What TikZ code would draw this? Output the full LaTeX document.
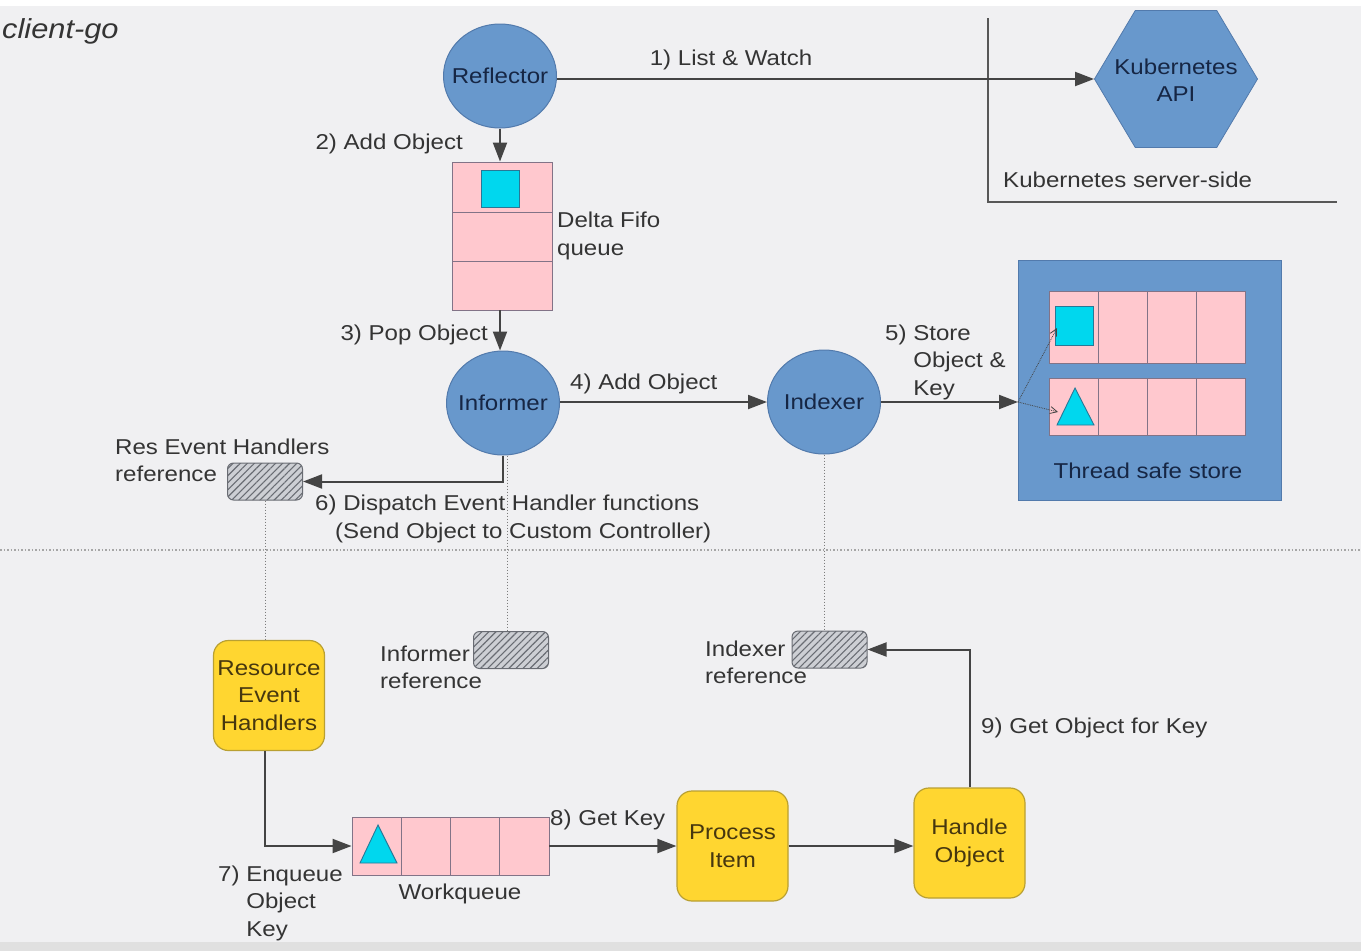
\documentclass[tikz,border=0pt]{standalone}
\usepackage{fontspec}
\setmainfont{Liberation Sans}[FakeStretch=1.12]
\usetikzlibrary{arrows.meta,patterns.meta,shapes.geometric}
\definecolor{bg}{RGB}{240,240,242}
\definecolor{blu}{RGB}{104,152,204}
\definecolor{bluedge}{RGB}{82,122,172}
\definecolor{pnk}{RGB}{255,200,206}
\definecolor{pnkedge}{RGB}{130,115,135}
\definecolor{cyn}{RGB}{0,215,238}
\definecolor{cynedge}{RGB}{40,120,150}
\definecolor{ylw}{RGB}{255,214,48}
\definecolor{ylwedge}{RGB}{185,160,50}
\definecolor{txt}{RGB}{52,52,52}
\definecolor{navy}{RGB}{22,38,68}
\definecolor{ylwtxt}{RGB}{70,55,15}
\definecolor{lin}{RGB}{68,68,68}
\definecolor{hatchbg}{RGB}{205,207,212}
\definecolor{hatchln}{RGB}{105,108,115}
\begin{document}
\begin{tikzpicture}[x=1pt,y=-1pt,
  font=\fontsize{21.5}{27.5}\selectfont, text=txt,
  proc/.style={ellipse, draw=bluedge, line width=1pt, fill=blu, minimum width=113pt, minimum height=104pt, inner sep=0pt, text=navy},
  ybox/.style={rectangle, rounded corners=15pt, draw=ylwedge, line width=1.2pt, fill=ylw, minimum width=111pt, minimum height=110pt, inner sep=0pt, align=center, text=ylwtxt},
  pinkbox/.style={rectangle, draw=pnkedge, line width=0.9pt, fill=pnk, inner sep=0pt},
  cell/.style={draw=pnkedge, line width=0.9pt},
  obj/.style={draw=cynedge, line width=0.9pt, fill=cyn},
  hatch/.style={rectangle, rounded corners=6pt, draw=hatchln, line width=1pt, preaction={fill=hatchbg}, pattern={Lines[angle=45,distance=5pt,line width=1.1pt]}, pattern color=hatchln, minimum width=75pt, minimum height=37pt, inner sep=0pt},
  flow/.style={draw=lin, line width=2pt, -{Triangle[length=19pt,width=14pt]}},
  dot/.style={draw=lin!70, line width=1pt, dotted},
  lbl/.style={inner sep=0pt, align=left}]

% background
\fill[bg] (0,0) rectangle (1361,951);
\fill[white] (0,0) rectangle (1361,6);
\fill[black!12] (0,942) rectangle (1361,951);
\useasboundingbox (0,0) rectangle (1361,951);

% title
\node[lbl, anchor=west, font=\fontsize{27.5}{32}\selectfont\itshape] (title) at (2,31) {client-go};

% server side
\coordinate (srvtop) at (988,18);
\coordinate (srvcorner) at (988,202);
\coordinate (srvend) at (1337,202);
\draw[draw=lin!90, line width=1.5pt] (srvtop) -- (srvcorner) -- (srvend);
\node[regular polygon, regular polygon sides=6, minimum size=163pt, inner sep=0pt, fill=blu, draw=bluedge, line width=0.8pt, yscale=0.97] (api) at (1176,79) {};
\node[align=center, text=navy, inner sep=0pt] (apitext) at (1176,80) {Kubernetes\\API};
\node[lbl, anchor=west] (srvlbl) at (1003,180) {Kubernetes server-side};

% reflector
\node[proc] (refl) at (500,76) {\makebox[0pt]{Reflector}};
\draw[flow] (refl.east |- api.west) -- (api.west);
\node[lbl] (l1) at (731,60) {1) List \& Watch};

% delta fifo
\node[pinkbox, minimum width=100pt, minimum height=148pt] (fifo) at (502,236) {};
\draw[cell] (452,212) -- (552,212);
\draw[cell] (452,261) -- (552,261);
\node[obj, minimum width=38pt, minimum height=37pt, inner sep=0pt] (fifoobj) at (500,188.5) {};
\node[lbl, anchor=west] (fifolbl) at (557,236) {Delta Fifo\\queue};
\draw[flow] (refl.south) -- (refl.south |- fifo.north);
\node[lbl, anchor=east] (l2) at (463,144) {2) Add Object};

% informer
\node[proc] (inf) at (503,403) {\makebox[0pt]{Informer}};
\draw[flow] (fifo.south -| refl.south) -- (refl.south |- inf.north);
\node[lbl, anchor=east] (l3) at (488,335) {3) Pop Object};

% indexer
\node[proc] (idx) at (824,402) {\makebox[0pt]{Indexer}};
\draw[flow] (inf.east |- idx.west) -- (idx.west);
\node[lbl, anchor=west] (l4) at (570,384) {4) Add Object};

% thread safe store
\node[rectangle, draw=bluedge, line width=1pt, fill=blu, minimum width=263pt, minimum height=240pt, inner sep=0pt] (store) at (1149.5,380) {};
\node[pinkbox, minimum width=196pt, minimum height=72pt] (row1) at (1147,327) {};
\node[pinkbox, minimum width=196pt, minimum height=57pt] (row2) at (1147,406.5) {};
\foreach \xx in {1098,1147,1196} {
  \draw[cell] (\xx,291) -- (\xx,363);
  \draw[cell] (\xx,378) -- (\xx,435);
}
\node[obj, minimum width=38pt, minimum height=39pt, inner sep=0pt] (sobj) at (1074,325.5) {};
\coordinate (striA) at (1075,388);
\coordinate (striB) at (1057,425);
\coordinate (striC) at (1094,425);
\draw[obj] (striA) -- (striC) -- (striB) -- cycle;
\node[text=navy, inner sep=0pt] (storelbl) at (1148,471) {Thread safe store};
\coordinate (sin) at (1018,402);
\draw[flow] (idx.east) -- (sin);
\coordinate (sobjin) at (1057,328);
\coordinate (striin) at (1058,412);
\draw[draw=lin, line width=0.8pt, densely dotted, -{Straight Barb[length=7pt,width=7pt]}] (sin) -- (sobjin);
\draw[draw=lin, line width=0.8pt, densely dotted, -{Straight Barb[length=7pt,width=7pt]}] (sin) -- (striin);
\node[lbl, anchor=west] (l5) at (885,362) {5) Store\\\hphantom{5) }Object \&\\\hphantom{5) }Key};

% res event handlers reference
\node[hatch] (resref) at (265,481.5) {};
\node[lbl, anchor=west] (resreflbl) at (115,460.5) {Res Event Handlers\\reference};
\draw[flow] (inf.south) |- (resref.east);
\node[lbl, anchor=west] (l6) at (315,519) {6) Dispatch Event Handler functions\\\hspace*{20pt}(Send Object to Custom Controller)};

% separator
\coordinate (sepL) at (0,550);
\coordinate (sepR) at (1361,550);
\draw[draw=black!35, line width=1.5pt, dotted] (sepL) -- (sepR);

% informer reference
\node[hatch] (infref) at (511,650) {};
\node[lbl, anchor=west] (infreflbl) at (380,667.5) {Informer\\reference};
\draw[dot] ([xshift=4pt]inf.south) -- ([xshift=4pt]inf.south |- infref.north);

% indexer reference
\node[hatch] (idxref) at (829.5,649.5) {};
\node[lbl, anchor=west] (idxreflbl) at (705,662.5) {Indexer\\reference};
\draw[dot] (idx.south) -- (idx.south |- idxref.north);

% resource event handlers
\node[ybox] (reh) at (269,695.5) {Resource\\Event\\Handlers};
\draw[dot] (resref.south) -- (resref.south |- reh.north);

% workqueue
\node[pinkbox, minimum width=197pt, minimum height=58pt] (wq) at (450.5,846) {};
\foreach \xx in {401.25,450.5,499.75} {
  \draw[cell] (\xx,817) -- (\xx,875);
}
\coordinate (wtriA) at (378,825);
\coordinate (wtriB) at (360,863);
\coordinate (wtriC) at (397,863);
\draw[obj] (wtriA) -- (wtriC) -- (wtriB) -- cycle;
\node[inner sep=0pt] (wqlbl) at (460,894) {Workqueue};
\draw[flow] (resref.south |- reh.south) |- (wq.west);
\node[lbl, anchor=west] (l7) at (218,903) {7) Enqueue\\\hphantom{7) }Object\\\hphantom{7) }Key};

% process item, handle object
\node[ybox] (pi) at (732.5,846) {Process\\Item};
\node[ybox] (ho) at (969.5,843) {Handle\\Object};
\draw[flow] (wq.east) -- (pi.west);
\node[lbl, anchor=west] (l8) at (550,820) {8) Get Key};
\draw[flow] (pi.east) -- (pi.east -| ho.west);
\draw[flow] (ho.north) |- (idxref.east);
\node[lbl, anchor=west] (l9) at (981,728) {9) Get Object for Key};
\end{tikzpicture}
\end{document}
